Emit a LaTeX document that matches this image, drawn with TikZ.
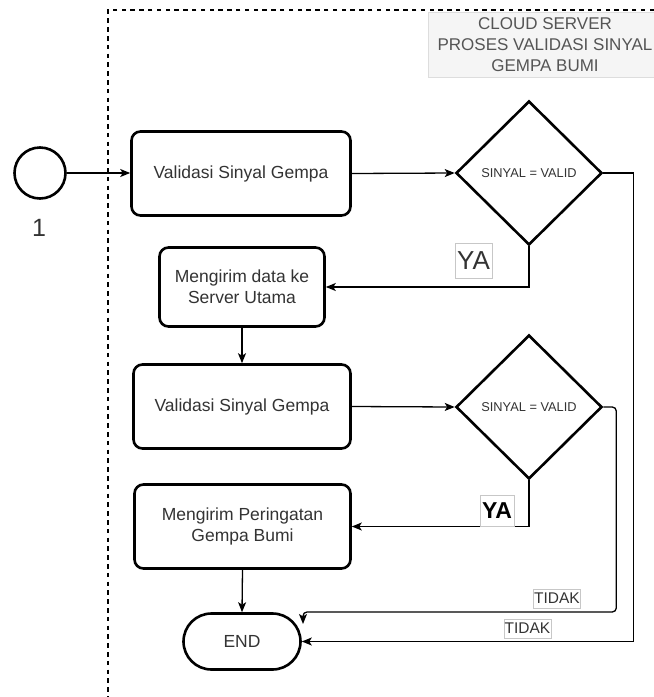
\documentclass[tikz,border=0pt]{standalone}
\usepackage{fontspec}
\setmainfont{Liberation Sans}
\usetikzlibrary{shapes.geometric,arrows.meta}
\definecolor{txt}{HTML}{333333}
\definecolor{cloudtxt}{HTML}{555555}
\definecolor{cloudfill}{HTML}{F5F5F5}
\definecolor{cloudline}{HTML}{DDDDDD}
\begin{document}
\begin{tikzpicture}[x=1pt,y=-1pt,
  box/.style={draw, line width=2.6pt, rounded corners=9pt, fill=white, text=txt,
    font=\fontsize{17.5}{21}\selectfont, align=center, inner sep=0pt},
  dec/.style={draw, diamond, line width=2.6pt, minimum width=146pt, minimum height=144pt,
    inner sep=0pt, fill=white, text=txt, font=\fontsize{12.8}{15}\selectfont},
  conn/.style={line width=1.3pt, -{Stealth[length=10pt,width=8pt,inset=2.5pt]}},
  lbl/.style={draw=black!22, line width=0.6pt, fill=white, inner sep=0pt, text=txt},
  term/.style={draw, line width=2.6pt, rounded corners=28pt, minimum width=117pt,
    minimum height=56pt, inner sep=0pt, fill=white, text=txt, font=\fontsize{17.5}{21}\selectfont}
]
\useasboundingbox (0,0) rectangle (654,697);

% cloud header
\node[draw=cloudline, fill=cloudfill, line width=0.8pt, minimum width=234pt, minimum height=65pt,
  inner sep=0pt, align=center, text=cloudtxt, font=\fontsize{17}{21}\selectfont]
  (cloud) at (545,44.5) {CLOUD SERVER\\PROSES VALIDASI SINYAL\\GEMPA BUMI};

% lane boundary
\draw[line width=1.2pt, dash pattern=on 4.5pt off 4.3pt] (654,10) -- (108,10) -- (108,697);

% start
\node[draw, circle, line width=2.6pt, minimum size=51pt, inner sep=0pt, fill=white] (start) at (40,173) {};
\node[text=txt, font=\fontsize{25}{30}\selectfont] (one) at (39,228) {1};

% boxes
\node[box, minimum width=219pt, minimum height=84pt] (b1) at (241,173.5) {Validasi Sinyal Gempa};
\node[dec] (d1) at (529,173) {SINYAL = VALID};
\node[box, minimum width=165pt, minimum height=79pt] (b2) at (242,287) {Mengirim data ke\\Server Utama};
\node[box, minimum width=217pt, minimum height=84pt] (b3) at (242,406.5) {Validasi Sinyal Gempa};
\node[dec] (d2) at (529,407) {SINYAL = VALID};
\node[box, minimum width=216pt, minimum height=84pt] (b4) at (242.5,526.5) {Mengirim Peringatan\\Gempa Bumi};
\node[term] (end) at (242,641.5) {END};
\coordinate (endin) at (303,624);

% connectors
\draw[conn] (start.east) -- (start.east -| b1.west);
\draw[conn] (b1.east) -- (d1.west);
\draw[conn] (d1.south) |- (b2.east);
\draw[conn] (b2.south) -- (b3.north);
\draw[conn] (b3.east) -- (d2.west);
\draw[conn] (d2.south) |- (b4.east);
\draw[conn] (b4.south) -- (end.north);
\draw[conn] (d1.east) -- ++(30,0) |- (end.east);
\draw[conn, rounded corners=4pt] (d2.east) -- ++(13,0) -- ++(0,205) -| (endin);

% labels
\node[lbl, minimum width=37pt, minimum height=35pt, font=\fontsize{26}{30}\selectfont] (ya1) at (473.5,260.5) {YA};
\node[lbl, minimum width=34pt, minimum height=31pt, text=black, font=\fontsize{23}{27}\selectfont\bfseries] (ya2) at (497,510.5) {YA};
\node[lbl, minimum width=47pt, minimum height=19pt, font=\fontsize{15.5}{18}\selectfont] (tidak1) at (557,598.5) {TIDAK};
\node[lbl, minimum width=47pt, minimum height=19pt, font=\fontsize{15.5}{18}\selectfont] (tidak2) at (527.5,628.5) {TIDAK};
\end{tikzpicture}
\end{document}
